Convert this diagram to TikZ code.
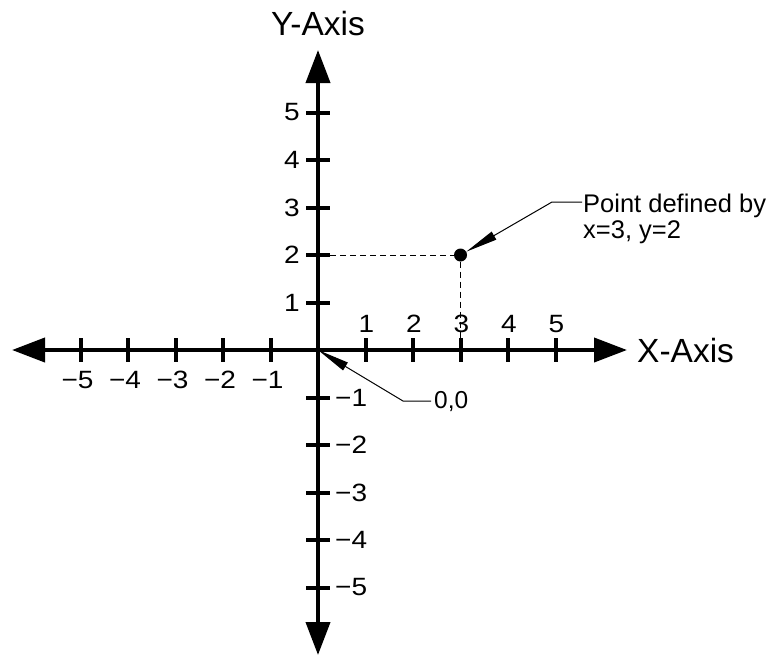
\documentclass[tikz,border=0pt]{standalone}
\usepackage{graphicx}
\usepackage{fontspec}
\setmainfont{Liberation Sans}
\usetikzlibrary{arrows.meta}
\newcommand{\widen}[1]{\scalebox{1.12}[1]{#1}}
\begin{document}
\begin{tikzpicture}[x=1pt,y=-1pt,
  axisline/.style={line width=4pt,{Triangle[length=33pt,width=24pt]}-{Triangle[length=33pt,width=24pt]}},
  tickmark/.style={line width=4pt},
  numlbl/.style={font=\fontsize{25}{25}\selectfont, inner sep=0pt},
  axislbl/.style={font=\fontsize{33.5}{33.5}\selectfont, inner sep=0pt},
  notelbl/.style={inner sep=0pt, align=left},
  dashline/.style={line width=1pt, dash pattern=on 6pt off 4pt},
  leader/.style={line width=1pt, -{Triangle[length=32pt,width=9pt]}},
  ptdot/.style={circle, fill=black, inner sep=0pt, minimum size=13pt}
]
\fill[white] (0,0) rectangle (773,657);
\useasboundingbox (0,0) rectangle (773,657);

\coordinate (O) at (318,350);
\coordinate (xl) at (12,350);
\coordinate (xr) at (627,350);
\coordinate (yt) at (318,50);
\coordinate (yb) at (318,655);

% axes
\draw[axisline] (xl) -- (xr);
\draw[axisline] (yb) -- (yt);

% ticks and labels
\foreach \k in {1,...,5} {
  \draw[tickmark] (318+47.5*\k,338) -- (318+47.5*\k,362);
  \draw[tickmark] (318-47.5*\k,338) -- (318-47.5*\k,362);
  \draw[tickmark] (306,350-47.5*\k) -- (330,350-47.5*\k);
  \draw[tickmark] (306,350+47.5*\k) -- (330,350+47.5*\k);
  \node[numlbl] (xp\k) at (319+47.5*\k,324) {\widen{\k}};
  \node[numlbl] (xn\k) at (315-47.5*\k,380) {\widen{−\k}};
  \node[numlbl] (yp\k) at (292,350-47.5*\k) {\widen{\k}};
  \node[numlbl, anchor=west] (yn\k) at (335,350+47.5*\k) {\widen{−\k}};
}

% axis labels
\node[axislbl, anchor=base] (ylab) at (318,35) {Y-Axis};
\node[axislbl, anchor=base west] (xlab) at (637,362) {X-Axis};

% point (3,2)
\node[ptdot] (dot) at (460.5,255) {};
\coordinate (y2) at (330,255);
\coordinate (x3) at (460.5,338);
\draw[dashline] (y2) -- (dot);
\draw[dashline] (dot) -- (x3);

% point annotation
\node[notelbl, anchor=north west, font=\fontsize{25.5}{26}\selectfont] (ptxt) at (583,193.5) {Point defined by\\x=3, y=2};
\coordinate (pend) at (582,202);
\coordinate (pelbow) at (552,202);
\draw[leader] (pend) -- (pelbow) -- (dot);

% origin annotation
\node[notelbl, anchor=base west, font=\fontsize{24.5}{24.5}\selectfont] (otxt) at (434,408) {0,0};
\coordinate (oend) at (431,401);
\coordinate (oelbow) at (403,401);
\draw[leader] (oend) -- (oelbow) -- (O);
\end{tikzpicture}
\end{document}
